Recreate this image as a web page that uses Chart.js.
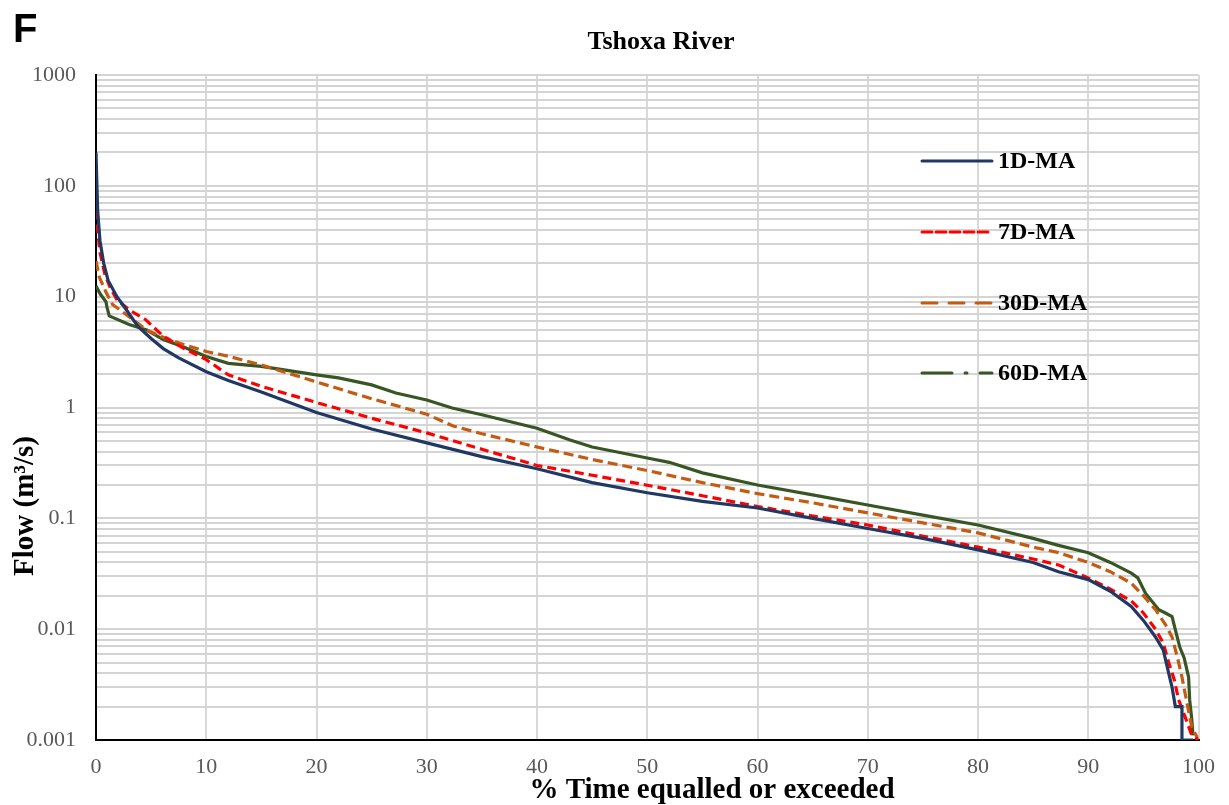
<!DOCTYPE html>
<html>
<head>
<meta charset="utf-8">
<title>Tshoxa River</title>
<script src="https://cdn.jsdelivr.net/npm/chart.js@4"></script>
<style>
  body { margin: 0; background: #fff; }
  #wrap { width: 1229px; height: 805px; position: relative; }
</style>
</head>
<body>
<div id="wrap"><canvas id="fdc"></canvas></div>
<script>
// Flow duration curves, % time equalled or exceeded vs flow (m3/s)
const seriesNames = ['1D-MA', '7D-MA', '30D-MA', '60D-MA'];

const pct1D = [0, 0.15, 0.36, 0.7, 1.1, 1.9, 2.8, 3.8, 5.0, 6.1, 7.5, 10, 12, 15, 20, 25, 30, 35, 40, 45, 50, 55, 60, 65, 70, 75, 80, 85, 87.3, 90, 92, 93.9, 95, 96.1, 96.8, 97.3, 97.6, 97.9, 98.5, 98.5, 99.5];
const flow1D = [200, 60, 32, 20, 14, 10, 7.5, 5.4, 4.2, 3.4, 2.8, 2.1, 1.75, 1.38, 0.9, 0.64, 0.48, 0.36, 0.28, 0.21, 0.17, 0.142, 0.124, 0.1, 0.081, 0.066, 0.052, 0.04, 0.033, 0.028, 0.022, 0.016, 0.012, 0.0085, 0.0065, 0.004, 0.003, 0.002, 0.002, 0.001, 0.001];

const pct7D = [0, 0.15, 0.36, 0.8, 1.3, 1.9, 3, 4.5, 6.1, 8, 10, 12, 15, 20, 25, 30, 35, 40, 45, 50, 55, 60, 65, 70, 75, 80, 85, 87.3, 90, 92, 93.9, 95, 96.1, 96.8, 97.3, 97.8, 98.2, 98.8, 99.4, 100];
const flow7D = [60, 40, 25, 16, 12, 9.4, 7.6, 6.2, 4.4, 3.4, 2.7, 1.97, 1.55, 1.11, 0.8, 0.59, 0.42, 0.30, 0.245, 0.199, 0.16, 0.128, 0.105, 0.087, 0.069, 0.055, 0.043, 0.038, 0.029, 0.023, 0.018, 0.014, 0.01, 0.0075, 0.005, 0.0035, 0.0023, 0.0016, 0.0011, 0.001];

const pct30D = [0, 0.3, 0.9, 1.5, 3, 4.6, 6.1, 7.6, 10, 12, 15, 20, 25, 30, 32.4, 35, 40, 45, 50, 55, 60, 65, 70, 75, 80, 85, 87.3, 90, 92, 93.9, 95, 96.1, 97, 97.6, 98.1, 98.5, 98.9, 99.4, 100];
const flow30D = [21, 15, 11, 8.5, 6.6, 5.0, 4.3, 3.8, 3.2, 2.9, 2.42, 1.7, 1.2, 0.87, 0.68, 0.58, 0.44, 0.34, 0.27, 0.21, 0.167, 0.138, 0.112, 0.091, 0.074, 0.055, 0.049, 0.04, 0.033, 0.026, 0.02, 0.015, 0.011, 0.0085, 0.0055, 0.0037, 0.0023, 0.0013, 0.001];

const pct60D = [0, 0.4, 0.9, 1.0, 1.2, 3, 4.6, 6.1, 8, 10, 12, 15, 20, 22, 25, 27.2, 30, 32.3, 35, 40, 43, 45, 50, 52, 55, 60, 65, 70, 75, 80, 85, 87.3, 90, 92, 93.9, 94.5, 95.2, 96.4, 97, 97.6, 98.0, 98.3, 98.7, 99.1, 99.2, 99.4, 99.5];
const flow60D = [12.5, 10.5, 9, 8, 6.7, 5.6, 5.0, 4.1, 3.5, 2.88, 2.5, 2.35, 1.97, 1.85, 1.6, 1.35, 1.17, 0.99, 0.86, 0.65, 0.51, 0.44, 0.35, 0.32, 0.257, 0.2, 0.163, 0.132, 0.107, 0.087, 0.066, 0.057, 0.049, 0.04, 0.032, 0.029, 0.021, 0.015, 0.014, 0.013, 0.009, 0.0069, 0.0055, 0.0037, 0.0023, 0.0015, 0.0011];

const xTicks = [0, 10, 20, 30, 40, 50, 60, 70, 80, 90, 100];
const yTickValues = [0.001, 0.01, 0.1, 1, 10, 100, 1000];
const yTickLabels = ['0.001', '0.01', '0.1', '1', '10', '100', '1000'];

const chartTitle = 'Tshoxa River';
const xTitle = '% Time equalled or exceeded';
const yTitle = 'Flow (m\u00B3/s)';
const panelLabel = 'F';

function toPoints(xs, ys) {
    return xs.map((x, i) => ({ x: x, y: ys[i] }));
}

// minor log gridlines: 1..9 x 10^n
const yGrid = [];
yTickValues.forEach((d, i) => {
    if (i === yTickValues.length - 1) { yGrid.push(d); return; }
    for (let k = 1; k <= 9; k++) yGrid.push(+(d * k).toPrecision(3));
});

const styles = [
    { color: '#1f3864', dash: [], legendDash: [] },
    { color: '#ff0000', dash: [9, 5], legendDash: [10, 4] },
    { color: '#c55a11', dash: [10, 5], legendDash: [15, 12] },
    { color: '#375623', dash: [], legendDash: [30, 13, 2, 13] }
];

const allPct = [pct1D, pct7D, pct30D, pct60D];
const allFlow = [flow1D, flow7D, flow30D, flow60D];

const datasets = seriesNames.map((name, i) => ({
    label: name,
    data: toPoints(allPct[i], allFlow[i]),
    borderColor: styles[i].color,
    borderWidth: 3.2,
    borderDash: styles[i].dash,
    pointRadius: 0,
    tension: 0,
    fill: false
}));

// titles, panel letter and the legend inside the plot
const extraText = {
    id: 'extraText',
    afterDraw(chart) {
        const ctx = chart.ctx;
        ctx.save();
        ctx.fillStyle = '#000';
        ctx.textBaseline = 'alphabetic';
        ctx.font = 'bold 40px "Liberation Sans", Arial, sans-serif';
        ctx.textAlign = 'left';
        ctx.fillText(panelLabel, 13, 42);

        ctx.font = 'bold 26px "Liberation Serif", "Times New Roman", serif';
        ctx.textAlign = 'center';
        ctx.fillText(chartTitle, 661, 49);

        ctx.font = 'bold 29px "Liberation Serif", "Times New Roman", serif';
        ctx.fillText(xTitle, 712, 798);

        ctx.save();
        ctx.translate(33, 506);
        ctx.rotate(-Math.PI / 2);
        ctx.fillText(yTitle, 0, 0);
        ctx.restore();

        // legend
        const legendY = [161, 232, 303, 373];
        ctx.font = 'bold 24px "Liberation Serif", "Times New Roman", serif';
        ctx.textAlign = 'left';
        ctx.textBaseline = 'middle';
        seriesNames.forEach((name, i) => {
            ctx.beginPath();
            ctx.strokeStyle = styles[i].color;
            ctx.lineWidth = 3;
            ctx.lineCap = 'round';
            ctx.setLineDash(styles[i].legendDash);
            ctx.moveTo(922, legendY[i]);
            ctx.lineTo(992, legendY[i]);
            ctx.stroke();
            ctx.setLineDash([]);
            ctx.fillStyle = '#000';
            ctx.fillText(name, 998, legendY[i] + 1);
        });
        ctx.restore();
    }
};

const ctx = document.getElementById('fdc').getContext('2d');
new Chart(ctx, {
    type: 'line',
    data: { datasets: datasets },
    options: {
        responsive: true,
        maintainAspectRatio: false,
        animation: false,
        layout: { padding: { top: 75, right: 29, left: 0, bottom: 0 } },
        plugins: {
            legend: { display: false },
            tooltip: { enabled: false },
            title: { display: false }
        },
        scales: {
            x: {
                type: 'linear',
                min: 0,
                max: 100,
                afterBuildTicks: scale => { scale.ticks = xTicks.map(v => ({ value: v })); },
                afterFit: scale => { scale.height = 65; },
                ticks: {
                    color: '#595959',
                    padding: 14,
                    font: { family: '"Liberation Serif", "Times New Roman", serif', size: 22 }
                },
                grid: { color: '#d9d9d9', lineWidth: 2, drawTicks: false },
                border: { display: true, color: '#000', width: 2 }
            },
            y: {
                type: 'logarithmic',
                min: 0.001,
                max: 1000,
                afterBuildTicks: scale => { scale.ticks = yGrid.map(v => ({ value: v })); },
                afterFit: scale => { scale.width = 96; },
                ticks: {
                    autoSkip: false,
                    color: '#595959',
                    padding: 20,
                    font: { family: '"Liberation Serif", "Times New Roman", serif', size: 22 },
                    callback: value => {
                        const idx = yTickValues.findIndex(v => Math.abs(v - value) / v < 1e-6);
                        return idx >= 0 ? yTickLabels[idx] : '';
                    }
                },
                grid: { color: '#d4d4d4', lineWidth: 2, drawTicks: false },
                border: { display: true, color: '#000', width: 2 }
            }
        }
    },
    plugins: [extraText]
});
</script>
</body>
</html>
